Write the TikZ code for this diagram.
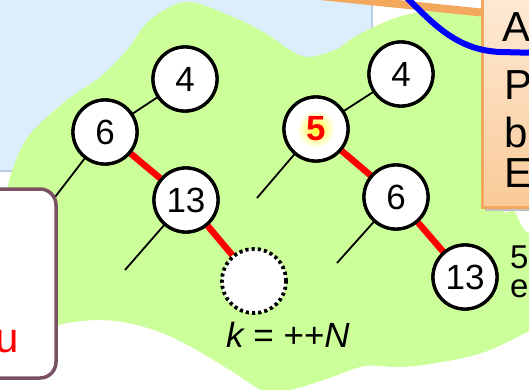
\documentclass[tikz,border=0pt]{standalone}
\usepackage{fontspec}
\setmainfont{Liberation Sans}
\definecolor{bgblue}{RGB}{220,237,252}
\definecolor{bgline}{RGB}{185,205,228}
\definecolor{blob}{RGB}{204,255,153}
\definecolor{orline}{RGB}{244,168,94}
\definecolor{ortop}{RGB}{253,234,214}
\definecolor{orbot}{RGB}{250,202,152}
\definecolor{mauve}{RGB}{122,80,100}
\definecolor{pureblue}{RGB}{0,0,255}
\definecolor{purered}{RGB}{255,0,0}
\begin{document}
\begin{tikzpicture}[x=1pt,y=-1pt,
  tnode/.style={circle,draw=black,fill=white,line width=3.3pt,minimum size=64pt,inner sep=0pt,font=\fontsize{35}{40}\selectfont},
  holenode/.style={circle,draw=black,fill=white,line width=3.6pt,dash pattern=on 3pt off 3.2pt,minimum size=64pt,inner sep=0pt},
  thinedge/.style={draw=black,line width=1.8pt},
  rededge/.style={draw=purered,line width=6.5pt},
  boxtext/.style={anchor=base west,inner sep=0pt,font=\fontsize{42}{48}\selectfont},
  sidetext/.style={anchor=base west,inner sep=0pt,font=\fontsize{33}{38}\selectfont}]
\useasboundingbox (0,0) rectangle (529,390);
\clip (0,0) rectangle (529,390);
\fill[white] (0,0) rectangle (529,390);
% light blue panel
\fill[bgblue] (-5,-5) rectangle (372,171);
\draw[bgline,line width=1.5pt] (372,-5) -- (372,171) -- (-5,171);
% green blob
\fill[blob] plot[smooth cycle,tension=0.55] coordinates {
  (150,20) (187,2) (233,17) (265,33) (290,50) (308,57) (335,50) (358,35)
  (395,18) (430,11) (468,12) (484,24) (492,100) (500,204) (514,211) (523,228)
  (540,250) (545,320) (529,331) (482,353) (430,364) (398,367) (365,366)
  (332,377) (298,388) (268,393) (233,372) (200,352) (167,335) (133,324)
  (100,320) (67,323) (40,330) (2,322) (2,230) (7,190) (16,160) (31,133) (67,100)
  (100,77) (127,50)};
% orange stripe
\draw[orline,line width=8pt] (320,-4) -- (486,13);
% orange box with shadow
\fill[black!25] (485,4) rectangle (545,211);
\shade[top color=ortop,bottom color=orbot] (482,-5) rectangle (545,207);
\draw[orline,line width=3pt] (482,-5) -- (482,207) -- (545,207);
\node[boxtext] (tA) at (502,42) {A};
\node[boxtext] (tP) at (504,100) {P};
\node[boxtext] (tb) at (504,148) {b};
\node[boxtext] (tE) at (504,187) {E};
% blue curve
\draw[pureblue,line width=6pt] (403,-6) .. controls (432,22) and (455,50) .. (500,52) -- (540,53);
% tree nodes
\node[tnode] (L4) at (185,79) {4};
\node[tnode] (L6) at (105,132) {6};
\node[tnode] (L13) at (186,200) {13};
\node[holenode] (Lh) at (254,281) {};
\node[tnode] (R4) at (401,74) {4};
\node[tnode] (R5) at (316,129) {};
\node[tnode] (R6) at (396,197) {6};
\node[tnode] (R13) at (465,277) {13};
\coordinate (L6e) at (42,214);
\coordinate (L13e) at (125,270);
\coordinate (R5e) at (257,198);
\coordinate (R6e) at (337,263);
% edges
\draw[thinedge] (L4) -- (L6);
\draw[thinedge] (L6) -- (L6e);
\draw[thinedge] (L13) -- (L13e);
\draw[rededge] (L6) -- (L13);
\draw[rededge] (L13) -- (Lh);
\draw[thinedge] (R4) -- (R5);
\draw[thinedge] (R5) -- (R5e);
\draw[thinedge] (R6) -- (R6e);
\draw[rededge] (R5) -- (R6);
\draw[rededge] (R6) -- (R13);
% redraw nodes over edge ends
\node[tnode] at (L4) {4};
\node[tnode] at (L6) {6};
\node[tnode] at (L13) {13};
\node[holenode] at (Lh) {};
\node[tnode] at (R4) {4};
\node[tnode] at (R5) {};
\node[tnode] at (R6) {6};
\node[tnode] at (R13) {13};
\shade[inner color=yellow!85,outer color=white] (R5) circle (19pt);
\node[text=purered,font=\fontsize{35}{40}\selectfont\bfseries] (R5t) at (R5) {5};
% left box
\draw[mauve,line width=3.5pt,fill=white,rounded corners=16pt] (-30,189) rectangle (56,378);
\node[anchor=base west,inner sep=0pt,text=purered,font=\fontsize{42}{48}\selectfont] (tu) at (-5,352) {u};
% labels
\node[anchor=base,inner sep=0pt,font=\fontsize{35}{40}\selectfont] (klab) at (288,347) {\itshape k\upshape{} = ++\itshape N};
\node[sidetext] (t5) at (510,268) {5};
\node[sidetext] (te) at (510,297) {e};
\end{tikzpicture}
\end{document}
